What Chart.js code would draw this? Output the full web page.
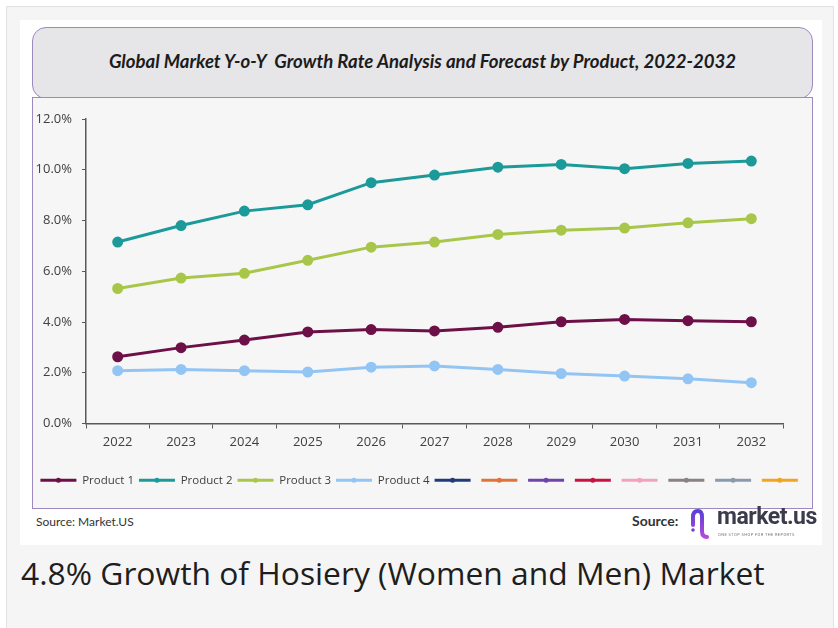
<!DOCTYPE html>
<html>
<head>
<meta charset="utf-8">
<script src="https://cdn.jsdelivr.net/npm/chart.js@4.4.1/dist/chart.umd.min.js"></script>
<style>
    html, body { margin: 0; padding: 0; background: #ffffff; }
    body { width: 838px; height: 628px; position: relative; overflow: hidden; font-family: "Open Sans", sans-serif; }
    .card { position: absolute; left: 6px; top: 6px; width: 828px; height: 640px; background: #f5f5f5; border: 1px solid #e2e2e2; box-sizing: border-box; }
    .sheet { position: absolute; left: 20px; top: 20px; width: 802px; height: 525px; background: #ffffff; }
    .title-box { position: absolute; left: 32px; top: 27px; width: 781px; height: 72px; box-sizing: border-box; background: #e6e5e8; border: 1.5px solid #9d89bf; border-radius: 14px; display: flex; align-items: center; justify-content: center; }
    .title-box span { font-family: Lato, sans-serif; font-weight: bold; font-style: italic; font-size: 18.6px; color: #1c1c1c; margin-top: -4px; }
    .chart-box { position: absolute; left: 32px; top: 97px; width: 781px; height: 412px; box-sizing: border-box; background: #f7f6f7; border: 1.5px solid #9d89bf; }
    .chart-box canvas { position: absolute; left: 0; top: 0; }
    .src-left { position: absolute; left: 36px; top: 514px; font-family: Lato, sans-serif; font-size: 12px; color: #333333; }
    .src-right { position: absolute; left: 632px; top: 512px; font-family: Lato, sans-serif; font-weight: bold; font-size: 14px; color: #333333; }
    .logo { position: absolute; left: 690px; top: 505px; }
    .logo-text { position: absolute; left: 717px; top: 503px; font-family: Roboto, sans-serif; font-weight: bold; font-size: 23px; color: #3b3b4c; letter-spacing: -0.5px; }
    .logo-tag { position: absolute; left: 718px; top: 532px; font-family: Roboto, sans-serif; font-size: 4px; color: #777777; letter-spacing: 0.4px; }
    .subtitle { position: absolute; left: 21px; top: 551px; font-size: 31.8px; color: #1e1e1e; white-space: nowrap; }
</style>
</head>
<body>
<div class="card"></div>
<div class="sheet"></div>
<div class="title-box"><span>Global Market Y-o-Y&nbsp; Growth Rate Analysis and Forecast by Product, 2022-2032</span></div>
<div class="chart-box"><canvas id="lineChartGrowth" width="778" height="409"></canvas></div>
<div class="src-left">Source: Market.US</div>
<div class="src-right">Source:</div>
<svg class="logo" width="26" height="36" viewBox="0 0 26 36">
    <defs>
        <linearGradient id="lg" x1="0" y1="0" x2="0" y2="1">
            <stop offset="0" stop-color="#5b3fd6"/>
            <stop offset="1" stop-color="#b44bd8"/>
        </linearGradient>
    </defs>
    <path d="M3 20 V12 Q3 6 8 6 Q12 6 12 12 V26 Q12 32 17 32" fill="none" stroke="url(#lg)" stroke-width="4" stroke-linecap="round"/>
    <line x1="18" y1="9" x2="18" y2="24" stroke="url(#lg)" stroke-width="4" stroke-linecap="round"/>
    <line x1="23" y1="6" x2="23" y2="24" stroke="url(#lg)" stroke-width="4" stroke-linecap="round"/>
    <circle cx="3" cy="25" r="1.8" fill="#6a44d8"/>
</svg>
<div class="logo-text">market.us</div>
<div class="logo-tag">ONE STOP SHOP FOR THE REPORTS</div>
<div class="subtitle">4.8% Growth of Hosiery (Women and Men) Market</div>

<script>
    // Chart data
    const years = ['2022', '2023', '2024', '2025', '2026', '2027', '2028', '2029', '2030', '2031', '2032'];
    const product1 = [2.63, 2.99, 3.29, 3.61, 3.70, 3.65, 3.79, 4.01, 4.10, 4.05, 4.01];
    const product2 = [7.15, 7.80, 8.37, 8.62, 9.49, 9.79, 10.10, 10.21, 10.04, 10.25, 10.34];
    const product3 = [5.32, 5.73, 5.92, 6.43, 6.95, 7.15, 7.45, 7.62, 7.70, 7.91, 8.07];
    const product4 = [2.08, 2.13, 2.08, 2.03, 2.22, 2.27, 2.13, 1.97, 1.87, 1.76, 1.61];
    const yTicks = [0, 2, 4, 6, 8, 10, 12];

    const seriesNames = ['Product 1', 'Product 2', 'Product 3', 'Product 4'];
    const seriesColors = ['#6e1048', '#1c9a9a', '#a8c74a', '#93c5f4'];
    // unnamed series that only show up in the legend
    const emptySeriesColors = ['#1f3c78', '#e0733a', '#7043aa', '#c9123f', '#f1a3bc', '#8b8181', '#8a9aab', '#f1a41f'];

    const axisColor = '#595959';
    const tickColor = '#404040';

    const datasets = [product1, product2, product3, product4].map((values, i) => ({
        label: seriesNames[i],
        data: values,
        borderColor: seriesColors[i],
        backgroundColor: seriesColors[i],
        borderWidth: 3,
        pointRadius: 4,
        pointHoverRadius: 4,
        pointStyle: 'circle',
        tension: 0
    }));
    emptySeriesColors.forEach((color) => {
        datasets.push({
            label: '',
            data: [],
            borderColor: color,
            backgroundColor: color,
            borderWidth: 3
        });
    });

    // little dot in the middle of every legend line, like the Excel legend
    const legendDots = {
        id: 'legendDots',
        afterDraw(chart) {
            const legend = chart.legend;
            if (!legend || !legend.legendHitBoxes) return;
            const boxWidth = legend.options.labels.pointStyleWidth;
            const ctx = chart.ctx;
            legend.legendHitBoxes.forEach((box, i) => {
                ctx.save();
                ctx.fillStyle = chart.data.datasets[i].borderColor;
                ctx.beginPath();
                ctx.arc(box.left + boxWidth / 2, box.top + box.height / 2, 2.5, 0, Math.PI * 2);
                ctx.fill();
                ctx.restore();
            });
        }
    };

    const ctx = document.getElementById('lineChartGrowth').getContext('2d');

    new Chart(ctx, {
        type: 'line',
        data: {
            labels: years,
            datasets: datasets
        },
        options: {
            responsive: false,
            animation: false,
            layout: {
                padding: { left: 0, right: 0, top: 21, bottom: 11 }
            },
            plugins: {
                title: { display: false },
                tooltip: { enabled: false },
                legend: {
                    position: 'bottom',
                    labels: {
                        usePointStyle: true,
                        pointStyle: 'line',
                        pointStyleWidth: 36,
                        padding: 5,
                        color: tickColor,
                        font: { family: 'Open Sans', size: 11.5 }
                    }
                }
            },
            scales: {
                x: {
                    offset: true,
                    grid: {
                        offset: true,
                        drawOnChartArea: false,
                        drawTicks: true,
                        tickLength: 5,
                        color: axisColor
                    },
                    border: { color: axisColor, width: 1.5 },
                    ticks: {
                        color: tickColor,
                        padding: 6,
                        font: { family: 'Open Sans', size: 13 }
                    },
                    afterFit: (scale) => { scale.height = 46; }
                },
                y: {
                    min: 0,
                    max: 12,
                    afterBuildTicks: (scale) => { scale.ticks = yTicks.map((v) => ({ value: v })); },
                    grid: {
                        drawOnChartArea: false,
                        drawTicks: true,
                        tickLength: 4,
                        color: axisColor
                    },
                    border: { color: axisColor, width: 1.5 },
                    ticks: {
                        color: tickColor,
                        padding: 10,
                        font: { family: 'Open Sans', size: 13 },
                        callback: (value) => value.toFixed(1) + '%'
                    },
                    afterFit: (scale) => { scale.width = 53; }
                },
                spacer: {
                    type: 'linear',
                    position: 'right',
                    display: true,
                    grid: { display: false },
                    border: { display: false },
                    ticks: { display: false },
                    afterFit: (scale) => { scale.width = 28; }
                }
            }
        },
        plugins: [legendDots]
    });
</script>
</body>
</html>
